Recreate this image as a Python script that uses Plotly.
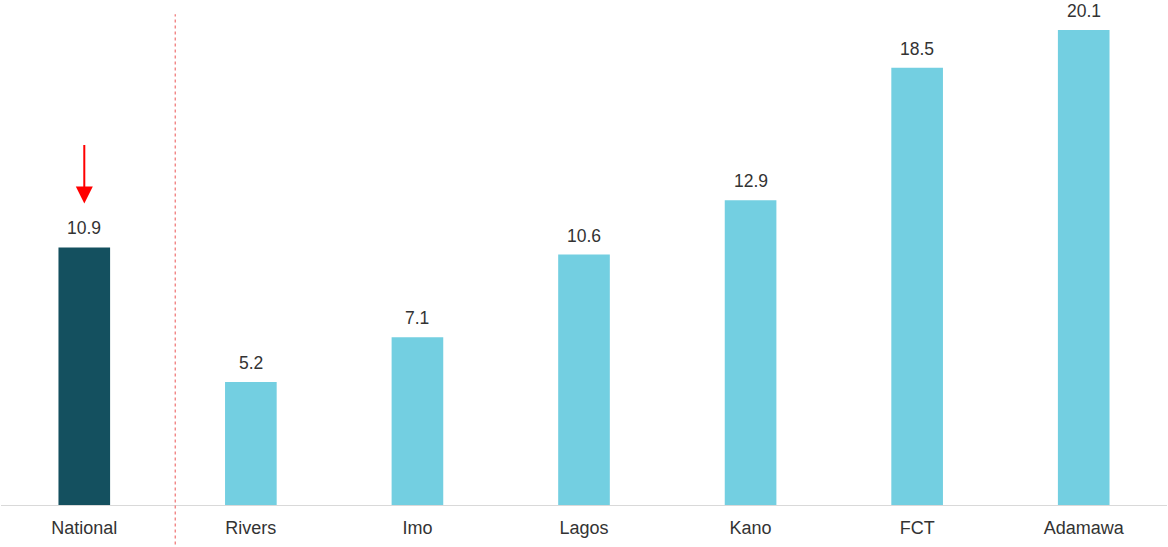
import plotly.graph_objects as go

# Regional values compared with the national figure
categories = ["National", "Rivers", "Imo", "Lagos", "Kano", "FCT", "Adamawa"]
values = [10.9, 5.2, 7.1, 10.6, 12.9, 18.5, 20.1]
bar_colors = ["#14505F"] + ["#73CFE1"] * 6

FONT = "Liberation Sans, Arial, sans-serif"

fig = go.Figure()
fig.add_trace(go.Bar(
    x=categories,
    y=values,
    marker=dict(color=bar_colors, line=dict(width=0)),
    width=0.31,
    hoverinfo="x+y",
))

# value labels above each bar
for cat, val in zip(categories, values):
    fig.add_annotation(
        x=cat, y=val, text=f"{val:.1f}", showarrow=False,
        yshift=19, font=dict(family=FONT, size=17.5, color="#333333"),
    )

# red arrow pointing down at the national bar
fig.add_annotation(
    x=categories[0], y=values[0], text="", showarrow=True,
    yshift=44, ax=0, ay=-60, axref="pixel", ayref="pixel",
    arrowhead=2, arrowsize=1.7, arrowwidth=2, arrowcolor="#FF0000",
)

# dotted separator between national and state bars
fig.add_shape(
    type="line", xref="x", yref="paper",
    x0=0.546, x1=0.546, y0=-0.09, y1=0.972,
    line=dict(color="#EE7070", width=1.2, dash="dot"),
)

fig.update_layout(
    width=1168, height=547,
    margin=dict(l=1, r=1, t=0, b=42),
    paper_bgcolor="white", plot_bgcolor="white",
    showlegend=False, bargap=0.69,
    font=dict(family=FONT, size=18, color="#333333"),
)
fig.update_xaxes(
    showgrid=False, showline=True, linecolor="#D9D9D9", linewidth=1,
    ticks="", ticklabelstandoff=6,
    tickfont=dict(family=FONT, size=18, color="#333333"),
)
fig.update_yaxes(
    range=[0, 21.37], visible=False, showgrid=False, zeroline=False,
)

fig.write_html("out.html")
